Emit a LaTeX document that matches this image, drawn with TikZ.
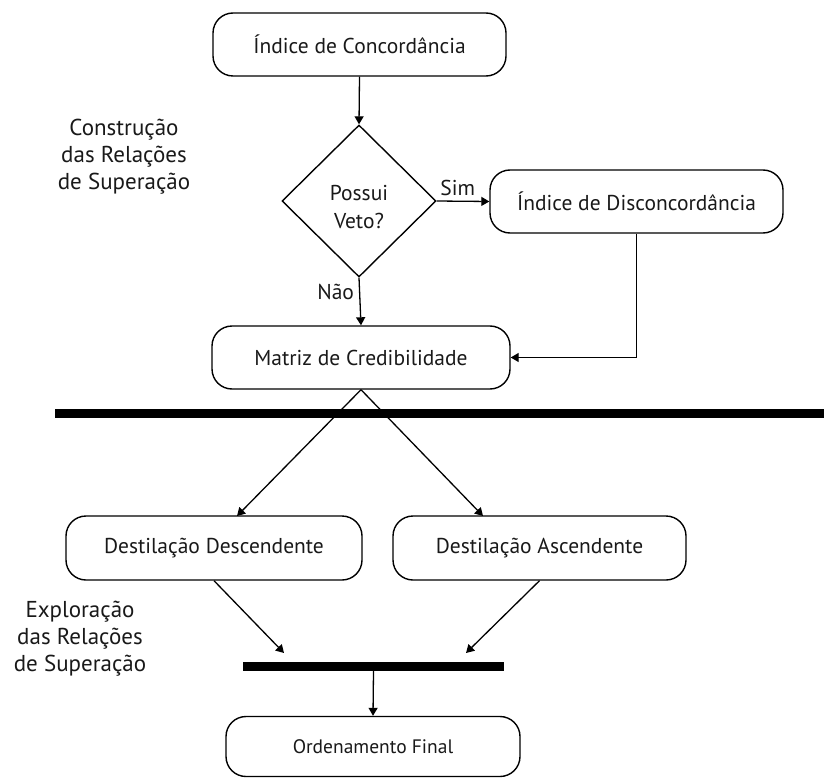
\documentclass[tikz,border=0pt]{standalone}
\usepackage{fontspec}
\setmainfont{PT Sans}
\usetikzlibrary{shapes.geometric,arrows.meta,calc}
\begin{document}
\begin{tikzpicture}[x=1pt,y=-1pt,
  box/.style={draw, line width=1.4pt, rounded corners=20pt, minimum height=63pt, inner sep=0pt,
    font=\fontsize{21.5}{24}\selectfont, text=black!90},
  dia/.style={draw, diamond, line width=1.4pt, inner sep=0pt, minimum width=154pt, minimum height=152pt},
  arr/.style={-{Triangle[width=9pt,length=8pt]}, line width=1.3pt},
  hbar/.style={fill=black, inner sep=0pt, minimum height=9pt},
  txt/.style={font=\fontsize{21.5}{28}\selectfont, text=black!90, align=center, inner sep=0pt},
  side/.style={font=\fontsize{23}{27}\selectfont, text=black!90, align=center, inner sep=0pt}
]
\useasboundingbox (0,0) rectangle (824,778);

\node[box, minimum width=293pt] (conc) at (359.5,44.5) {Índice de Concordância};
\node[dia] (veto) at (359,201) {};
\node[txt] (vetotxt) at (359,207) {Possui\\Veto?};
\node[box, minimum width=293pt] (disc) at (636.5,201.5) {Índice de Disconcordância};
\node[box, minimum width=298pt] (matriz) at (361,357.5) {Matriz de Credibilidade};
\node[hbar, minimum width=769pt] (bigbar) at (439.5,413.5) {};
\node[box, minimum width=296pt, minimum height=64pt] (desc) at (214,548) {Destilação Descendente};
\node[box, minimum width=293pt, minimum height=64pt] (asc) at (539.5,548) {Destilação Ascendente};
\node[hbar, minimum width=261pt] (smallbar) at (373.5,666.5) {};
\node[box, minimum width=294pt, minimum height=60pt, font=\fontsize{19.5}{22}\selectfont] (ord) at (373,746.5) {Ordenamento Final};

\node[side] (lab1) at (124,157) {Construção\\das Relações\\de Superação};
\node[side] (lab2) at (80,639) {Exploração\\das Relações\\de Superação};

\coordinate (tipL) at (237,516);
\coordinate (tipR) at (483,516);
\coordinate (jL) at (284,653);
\coordinate (jR) at (466,653);

\draw[arr] (conc.south) -- (veto.north);
\draw[arr] (veto.east) -- node[txt, above=5pt, pos=0.4] (sim) {Sim} (disc.west);
\draw[arr] (veto.south) -- node[txt, left=5pt, pos=0.3] (nao) {Não} (matriz.north);
\draw[arr] (disc.south) -- (disc.south |- matriz.east) -- (matriz.east);
\draw[arr] (matriz.south) -- (tipL);
\draw[arr] (matriz.south) -- (tipR);
\draw[arr] (desc.south) -- (jL);
\draw[arr] (asc.south) -- (jR);
\draw[arr] (smallbar.south) -- (ord.north);
\end{tikzpicture}
\end{document}
